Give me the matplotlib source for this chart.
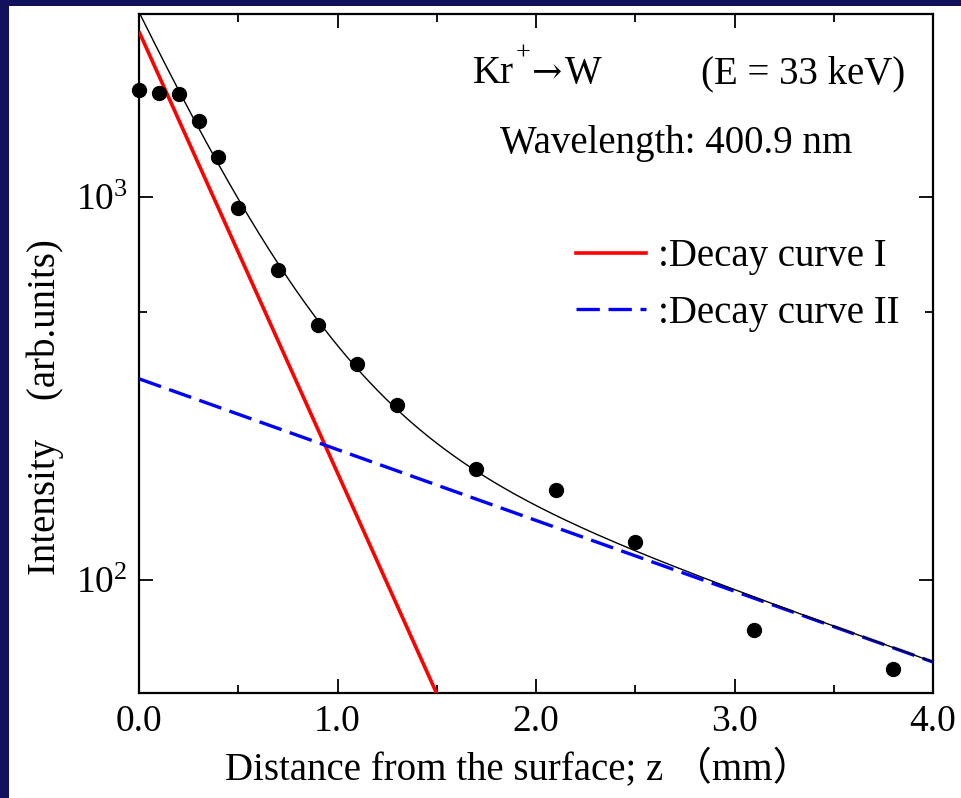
import numpy as np
import matplotlib
matplotlib.use("Agg")
import matplotlib.pyplot as plt
from matplotlib.patches import Rectangle
from matplotlib.ticker import LogLocator, NullFormatter, MultipleLocator, FormatStrFormatter
from matplotlib.lines import Line2D

plt.rcParams['font.family'] = ['Liberation Serif', 'Noto Sans CJK JP', 'DejaVu Sans']
plt.rcParams['mathtext.fontset'] = 'custom'
plt.rcParams['mathtext.rm'] = 'Liberation Serif'
plt.rcParams['mathtext.it'] = 'Liberation Serif:italic'

# ---- data ----
z_meas = [0.0, 0.1, 0.2, 0.3, 0.4, 0.5, 0.7, 0.9, 1.1, 1.3, 1.7, 2.1, 2.5, 3.1, 3.8]
I_meas = [1900, 1870, 1860, 1580, 1270, 936, 644, 464, 367, 287, 195, 172, 126, 74, 58.6]

A1, lam1 = 2700.0, 0.377   # decay curve I
A2, lam2 = 335.0, 2.35     # decay curve II

xticks = [0.0, 1.0, 2.0, 3.0, 4.0]
legend_labels = [':Decay curve I', ':Decay curve II']

W, H = 961, 798
fig = plt.figure(figsize=(W / 100, H / 100), dpi=100)
fig.patch.set_facecolor('#12125c')
fig.patches.append(Rectangle((9 / W, 0), 1 - 9 / W, (H - 6) / H, transform=fig.transFigure,
                             facecolor='white', edgecolor='none', zorder=-10))

ax = fig.add_axes([139 / W, (H - 693) / H, (933 - 139) / W, (693 - 14) / H])
ax.set_facecolor('none')

z = np.linspace(0, 4, 800)
c1 = A1 * np.exp(-z / lam1)
c2 = A2 * np.exp(-z / lam2)

ax.plot(z, c1, color='#ff0000', lw=2.6, solid_capstyle='butt', zorder=3)
ax.plot(z, c2, color='#0000ff', lw=2.4, dashes=(7, 2.6), zorder=3)
ax.plot(z, c1 + c2, color='black', lw=1.0, zorder=4)
ax.plot(z_meas, I_meas, 'o', color='black', ms=10, zorder=5, clip_on=False)

ax.set_yscale('log')
ax.set_xlim(0, 4)
ax.set_ylim(50.7, 3000)

ax.xaxis.set_major_locator(MultipleLocator(1.0))
ax.xaxis.set_minor_locator(MultipleLocator(0.5))
ax.xaxis.set_major_formatter(FormatStrFormatter('%.1f'))
ax.set_xticks(xticks)
ax.yaxis.set_major_locator(LogLocator(base=10, subs=(1.0,)))
ax.yaxis.set_minor_locator(LogLocator(base=10, subs=(5.0,)))
ax.yaxis.set_minor_formatter(NullFormatter())

ax.tick_params(which='both', direction='in', top=True, right=True, width=1.3, labelsize=27,
               colors='black')
ax.tick_params(which='major', length=10, pad=8)
ax.tick_params(which='minor', length=5.5)
for s in ax.spines.values():
    s.set_linewidth(1.6)

fig.text(473 / W, 1 - 83 / H, 'Kr', fontsize=28, ha='left', va='baseline', zorder=10)
fig.text(523 / W, 1 - 60 / H, '+', fontsize=19, ha='center', va='baseline', zorder=10)
fig.text(547 / W, 1 - 83 / H, '\u2192', fontsize=26, ha='center', va='baseline', zorder=10,
         family=['DejaVu Serif', 'DejaVu Sans'])
fig.text(565 / W, 1 - 83 / H, 'W', fontsize=28, ha='left', va='baseline', zorder=10)
fig.text(905 / W, 1 - 83 / H, '(E = 33 keV)', fontsize=28, ha='right', va='baseline', zorder=10)
fig.text(676 / W, 1 - 153 / H, 'Wavelength: 400.9 nm', fontsize=28, ha='center', va='baseline',
         zorder=10)

handles = [Line2D([], [], color='#ff0000', lw=2.6),
           Line2D([], [], color='#0000ff', lw=2.4, dashes=(7, 2.6))]
leg = ax.legend(handles, legend_labels, loc='upper left', bbox_to_anchor=(557 / W, 1 - 219 / H),
                bbox_transform=fig.transFigure, frameon=False, fontsize=28, handlelength=1.8,
                handletextpad=0.3, labelspacing=0.5, borderpad=0)

fig.text(518 / W, 1 - 770 / H, 'Distance from the surface; z \uff08mm\uff09', fontsize=28,
         ha='center', va='center')
fig.text(45 / W, 1 - 407 / H, 'Intensity\u3000(arb.units)', fontsize=28, rotation=90,
         ha='center', va='center')

fig.savefig('out.png', dpi=100, facecolor=fig.get_facecolor())
